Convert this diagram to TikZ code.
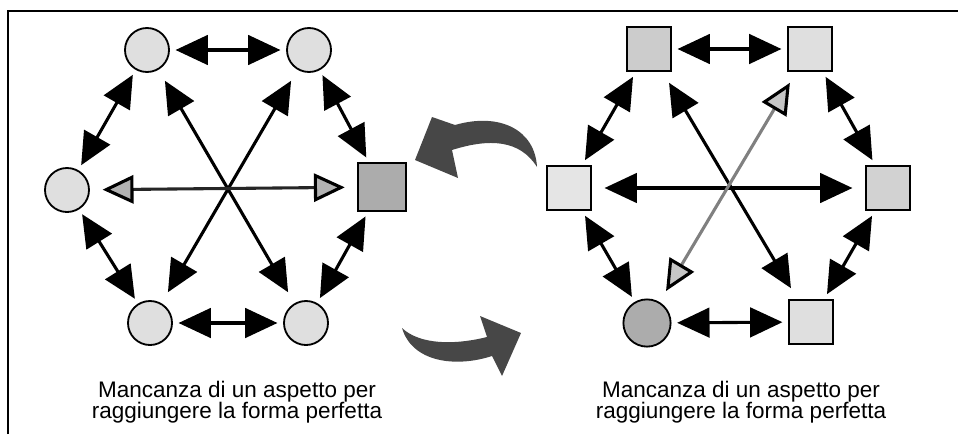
\documentclass[tikz,border=0pt]{standalone}
\usepackage{fontspec}
\setmainfont{Liberation Sans}
\usetikzlibrary{arrows.meta, positioning}

\begin{document}
\begin{tikzpicture}[x=0.025cm, y=-0.025cm,
  ball/.style={circle, draw, line width=1.3pt, fill=gray!25, minimum size=1.1cm, inner sep=0pt},
  box/.style={rectangle, draw, line width=1.3pt, fill=gray!25, minimum size=1.1cm, inner sep=0pt},
  dbl/.style={line width=2.2pt, {Triangle[length=23pt,width=21pt]}-{Triangle[length=23pt,width=21pt]}, shorten <=4pt, shorten >=4pt},
  spoke/.style={dbl, shorten <=9pt, shorten >=9pt},
  pale/.style={spoke, {Triangle[length=22pt,width=20pt,color=black,fill=#1]}-{Triangle[length=22pt,width=20pt,color=black,fill=#1]}},
  turn/.style={fill=black!72},
  caption/.style={align=center, font=\fontsize{16}{15}\selectfont}]
\useasboundingbox (0,0) rectangle (958,434);
\draw[line width=2pt] (8,434) -- (8,11) -- (958,11);

\node[ball] (TL) at (147,50) {};
\node[ball] (TR) at (309,50) {};
\node[ball] (L) at (67,190) {};
\node[box, fill=gray!65, minimum size=1.18cm] (R) at (382,187) {};
\node[ball] (BL) at (150,323) {};
\node[ball] (BR) at (306,323) {};

\path[dbl] (TL) edge (TR) (TR) edge (R) (R) edge (BR)
  (BR) edge (BL) (BL) edge (L) (L) edge (TL);
\path[spoke] (TL) edge (BR) (TR) edge (BL);
\path[pale=gray!60, draw=black!85] (L) edge (R);

\node[box, fill=gray!40] (TL2) at (649,49) {};
\node[box] (TR2) at (810,49) {};
\node[box, fill=gray!20] (L2) at (569,188) {};
\node[box, fill=gray!35] (R2) at (888,188) {};
\node[ball, fill=gray!65, minimum size=1.18cm] (BL2) at (647,323) {};
\node[box] (BR2) at (811,322) {};

\path[dbl] (TL2) edge (TR2) (TR2) edge (R2) (R2) edge (BR2)
  (BR2) edge (BL2) (BL2) edge (L2) (L2) edge (TL2);
\path[spoke] (TL2) edge (BR2) (L2) edge (R2);
\path[pale=gray!45, draw=black!50] (TR2) edge (BL2);

\fill[turn] (537,167) .. controls (535,130) and (500,112) .. (455,125)
  -- (432,117) -- (415,160) -- (458,178) -- (452,150)
  .. controls (490,138) and (520,140) .. cycle;
\fill[turn] (402,328) .. controls (412,362) and (455,368) .. (492,356)
  -- (502,376) -- (521,333) -- (480,316) -- (487,337)
  .. controls (455,345) and (420,345) .. cycle;

\node[caption] (C1) at (237,402) {Mancanza di un aspetto per\\raggiungere la forma perfetta};
\node[caption] (C2) at (741,402) {Mancanza di un aspetto per\\raggiungere la forma perfetta};
\end{tikzpicture}
\end{document}
